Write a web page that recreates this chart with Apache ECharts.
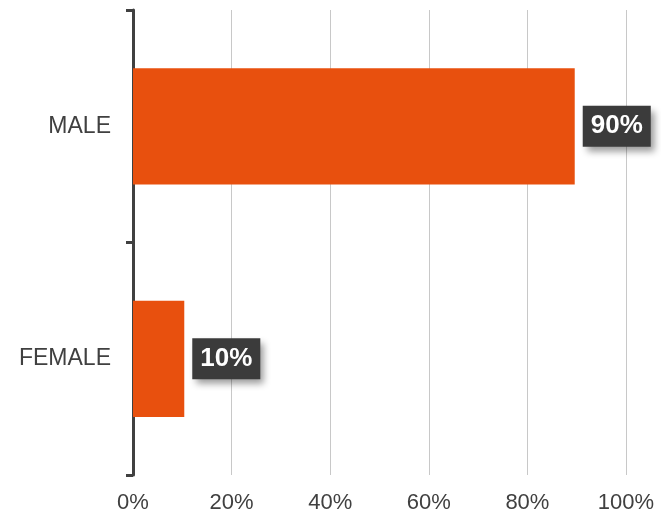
<!DOCTYPE html>
<html><head><meta charset="utf-8">
<script src="https://cdn.jsdelivr.net/npm/echarts@6/dist/echarts.min.js"></script>
<style>html,body{margin:0;padding:0;background:#fff}#c{width:661px;height:517px}</style>
</head><body><div id="c"></div>
<script>
var categories = ['FEMALE', 'MALE'];
var values = [10.4, 89.6];
var xTicks = [0, 20, 40, 60, 80, 100];

var chart = echarts.init(document.getElementById('c'));
chart.setOption({
  animation: false,
  grid: {left: 133, right: 35, top: 10, bottom: 42, containLabel: false},
  xAxis: {
    type: 'value', min: xTicks[0], max: xTicks[xTicks.length - 1], interval: 20,
    axisLine: {show: false}, axisTick: {show: false},
    splitLine: {show: true, lineStyle: {color: '#c8c8c8', width: 1}},
    axisLabel: {formatter: '{value}%', color: '#404040', fontSize: 22, fontFamily: 'Liberation Sans, Arial, sans-serif', margin: 17}
  },
  yAxis: {
    type: 'category', data: categories,
    axisLine: {show: true, lineStyle: {color: '#404040', width: 3}},
    axisTick: {show: true, length: 7, lineStyle: {color: '#404040', width: 3}},
    axisLabel: {color: '#404040', fontSize: 23, fontFamily: 'Liberation Sans, Arial, sans-serif', margin: 22}
  },
  series: [{
    type: 'bar', data: values, barWidth: '50%',
    itemStyle: {color: '#e8500e'},
    label: {
      show: true, position: 'right', distance: 8,
      formatter: function (p) { return Math.round(p.value) + '%'; },
      color: '#ffffff', fontSize: 26, fontWeight: 'bold', fontFamily: 'Liberation Sans, Arial, sans-serif',
      backgroundColor: '#3b3b3b', padding: [8, 8, 7, 8],
      shadowColor: 'rgba(0,0,0,0.4)', shadowBlur: 7, shadowOffsetX: 4, shadowOffsetY: 5
    }
  }]
});
</script></body></html>
